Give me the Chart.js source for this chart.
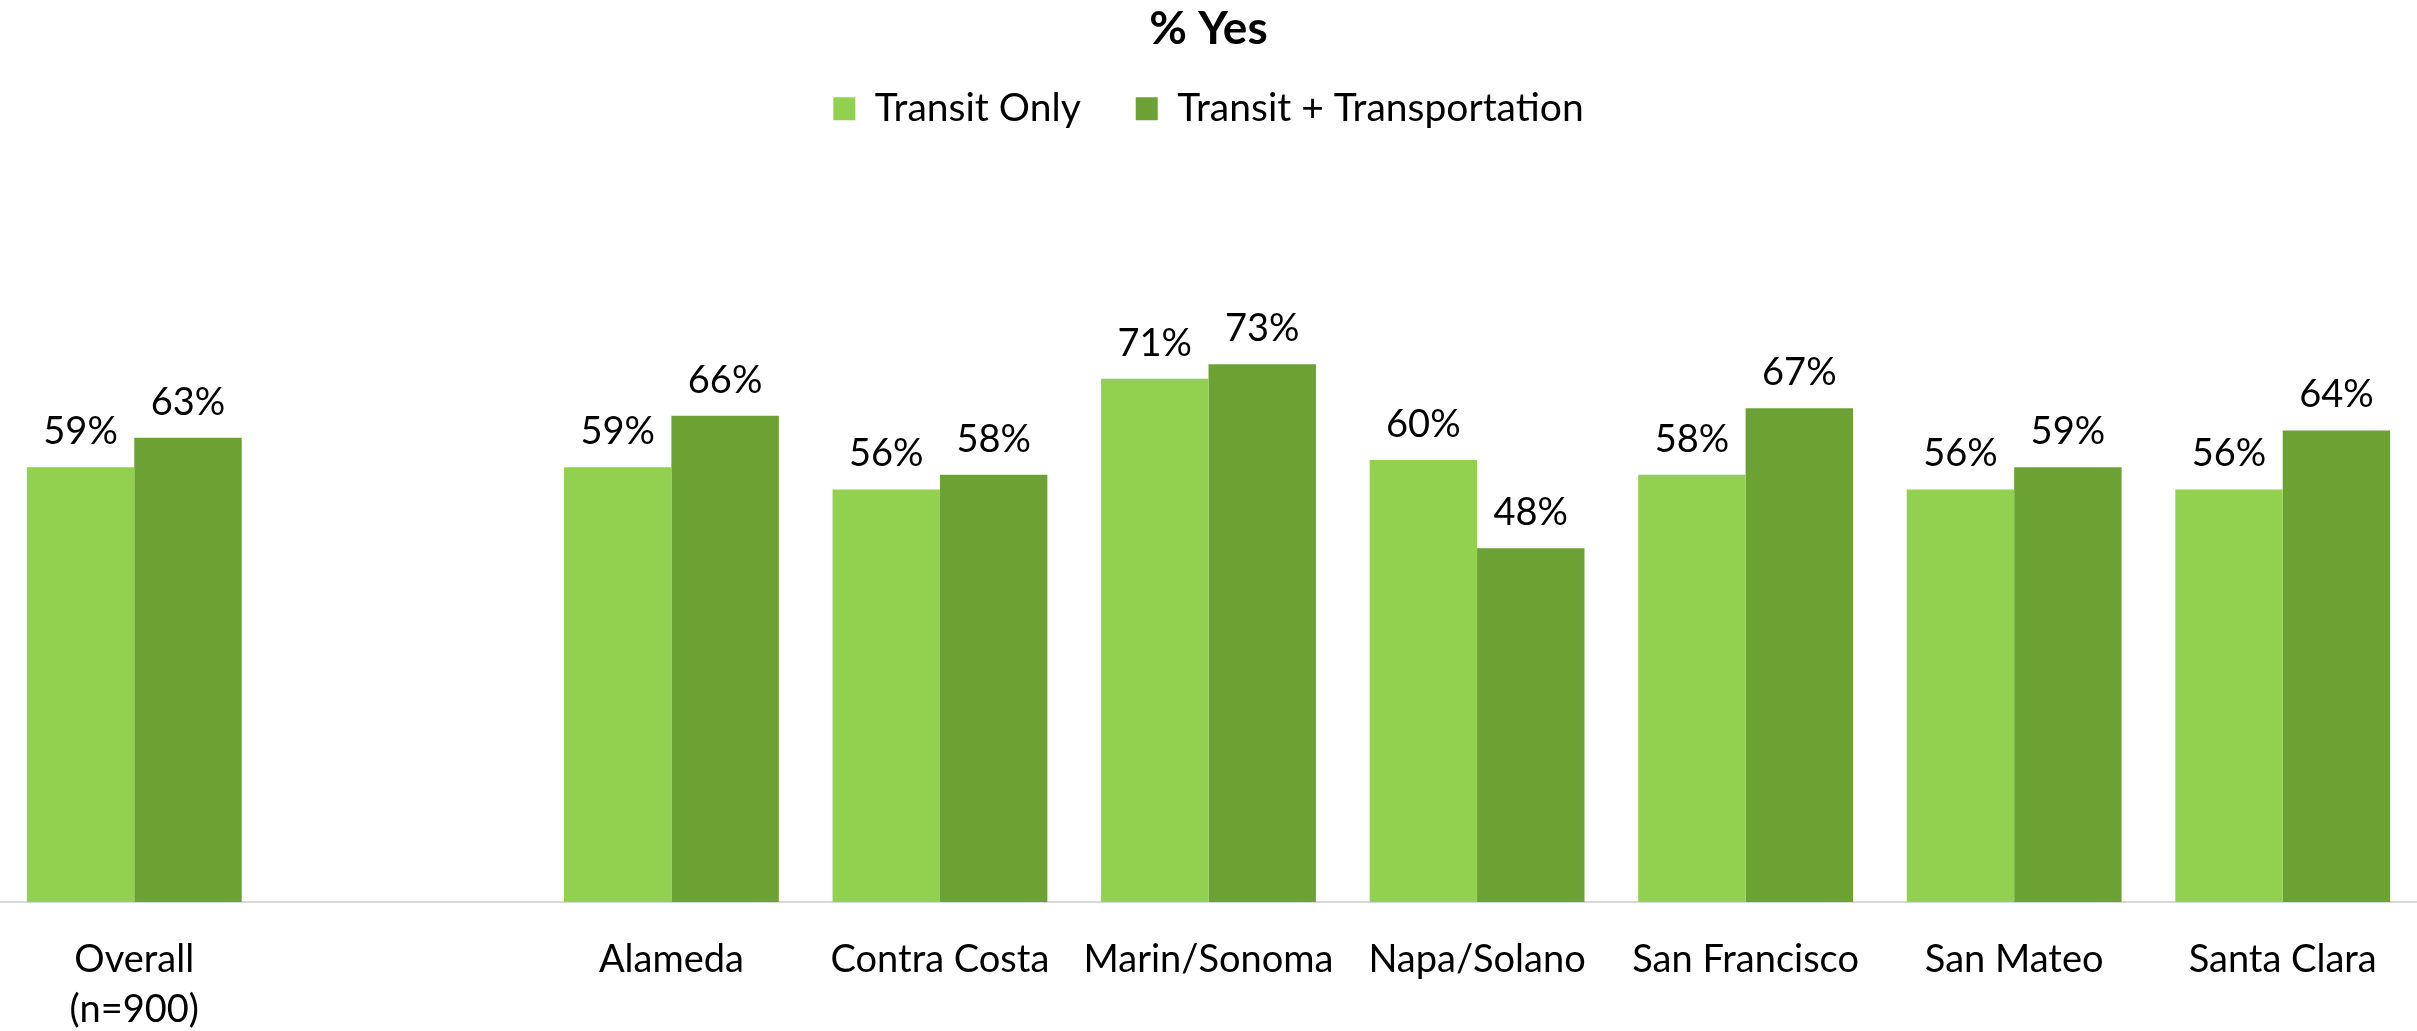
<!DOCTYPE html>
<html>
<head>
<meta charset="utf-8">
<title>% Yes</title>
<script src="https://cdn.jsdelivr.net/npm/chart.js@4.4.0/dist/chart.umd.min.js"></script>
<style>
  html, body { margin: 0; padding: 0; background: #fff; overflow: hidden; }
</style>
</head>
<body>
<canvas id="yesChart" width="2417" height="1031"></canvas>
<script>
// chart data
const categories = [["Overall", "(n=900)"], "", "Alameda", "Contra Costa", "Marin/Sonoma", "Napa/Solano", "San Francisco", "San Mateo", "Santa Clara"];
const transitOnly = [59, null, 59, 56, 71, 60, 58, 56, 56];
const transitPlus = [63, null, 66, 58, 73, 48, 67, 59, 64];
const seriesNames = ["Transit Only", "Transit + Transportation"];

const FONT = "Lato";

// draws the "59%" labels above each bar
const valueLabels = {
  id: "valueLabels",
  afterDatasetsDraw(chart) {
    const ctx = chart.ctx;
    ctx.save();
    ctx.font = "38px " + FONT;
    ctx.fillStyle = "#000";
    ctx.textAlign = "center";
    ctx.textBaseline = "alphabetic";
    chart.data.datasets.forEach((ds, i) => {
      chart.getDatasetMeta(i).data.forEach((bar, j) => {
        const v = ds.data[j];
        if (v === null || v === undefined) return;
        ctx.fillText(v + "%", bar.x, bar.y - 23);
      });
    });
    ctx.restore();
  }
};

// extra room under the legend
const legendGap = {
  id: "legendGap",
  beforeInit(chart) {
    const fit = chart.legend.fit;
    chart.legend.fit = function () {
      fit.bind(chart.legend)();
      this.height += 27;
    };
  }
};

const ctx = document.getElementById("yesChart").getContext("2d");
const chart = new Chart(ctx, {
  type: "bar",
  data: {
    labels: categories,
    datasets: [
      {
        label: seriesNames[0],
        data: transitOnly,
        backgroundColor: "#92D050",
        barPercentage: 1.0,
        categoryPercentage: 0.8,
      },
      {
        label: seriesNames[1],
        data: transitPlus,
        backgroundColor: "#6CA133",
        barPercentage: 1.0,
        categoryPercentage: 0.8,
      },
    ],
  },
  options: {
    responsive: false,
    animation: false,
    layout: { padding: { top: 0, left: 0, right: 0, bottom: -37 } },
    plugins: {
      title: {
        display: true,
        text: "% Yes",
        color: "#000",
        font: { family: FONT, size: 46, weight: "bold" },
        padding: { top: 2, bottom: -23 },
      },
      legend: {
        position: "top",
        labels: {
          color: "#000",
          font: { family: FONT, size: 39 },
          boxWidth: 22,
          boxHeight: 23,
          padding: 55,
        },
      },
      tooltip: { enabled: false },
    },
    scales: {
      x: {
        grid: { display: false, drawTicks: false },
        border: { display: true, color: "#d9d9d9", width: 2 },
        ticks: {
          color: "#000",
          font: { family: FONT, size: 38, lineHeight: "50px" },
          padding: 33,
          maxRotation: 0,
          autoSkip: false,
        },
      },
      y: {
        display: false,
        min: 0,
        max: 100,
      },
    },
  },
  plugins: [valueLabels, legendGap],
});
</script>
</body>
</html>
